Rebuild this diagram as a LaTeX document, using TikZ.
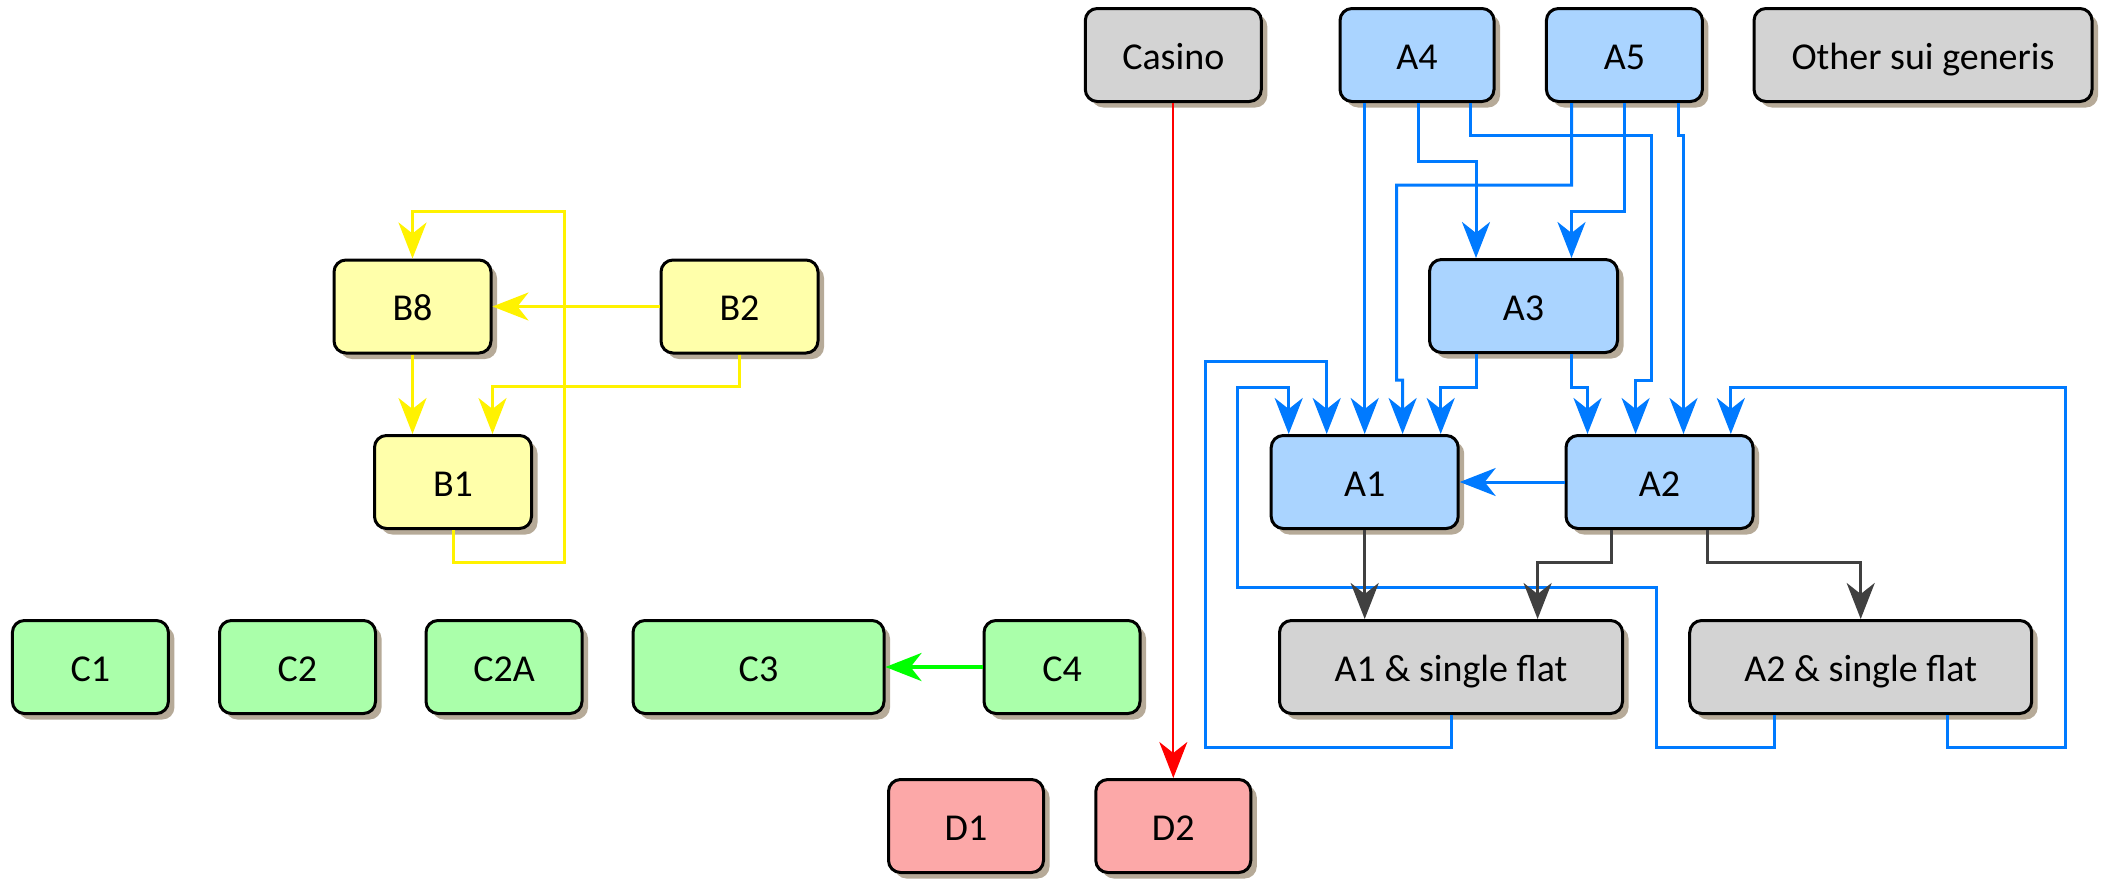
\documentclass[tikz,border=0pt]{standalone}
\usepackage{fontspec}
\setmainfont{Carlito}
\usetikzlibrary{arrows.meta,shadows}
\definecolor{fblue}{RGB}{170,212,255}
\definecolor{fgray}{RGB}{211,211,211}
\definecolor{fyellow}{RGB}{255,255,170}
\definecolor{fgreen}{RGB}{170,255,170}
\definecolor{fred}{RGB}{252,168,168}
\definecolor{shadowc}{RGB}{182,170,152}
\definecolor{lblue}{RGB}{0,122,255}
\definecolor{lgray}{RGB}{64,64,64}
\begin{document}
\begin{tikzpicture}[x=1pt,y=-1pt,
  box/.style={draw=black,line width=3pt,rounded corners=12pt,inner sep=0pt,align=center,
    font=\fontsize{38}{45}\selectfont,minimum height=93pt,text height=31pt,text depth=3pt,
    drop shadow={shadow xshift=6pt,shadow yshift=-6pt,fill=shadowc,opacity=1}},
  bluebox/.style={box,fill=fblue},
  graybox/.style={box,fill=fgray},
  yelbox/.style={box,fill=fyellow},
  grnbox/.style={box,fill=fgreen},
  redbox/.style={box,fill=fred},
  tip/.style={-{Stealth[length=36pt,width=28pt,inset=11pt]}},
  bl/.style={draw=lblue,line width=3pt,tip},
  gr/.style={draw=lgray,line width=3pt,tip},
  ye/.style={draw=yellow,line width=3pt,tip},
  rd/.style={draw=red,line width=2pt,tip},
  gn/.style={draw=green,line width=4pt,tip}
]
\useasboundingbox (0,0) rectangle (2109,879);
% top row
\node[graybox,minimum width=176pt] (Casino) at (1173.3,55) {Casino};
\node[bluebox,minimum width=154pt] (A4) at (1417,55) {A4};
\node[bluebox,minimum width=156pt] (A5) at (1624.4,55) {A5};
\node[graybox,minimum width=338pt] (Other) at (1923,55) {Other sui generis};
% A group
\node[bluebox,minimum width=188pt] (A3) at (1523.5,306) {A3};
\node[bluebox,minimum width=187pt] (A1) at (1364.7,482) {A1};
\node[bluebox,minimum width=187pt] (A2) at (1659.5,482) {A2};
\node[graybox,minimum width=343pt] (A1sf) at (1451,667) {A1 \& single flat};
\node[graybox,minimum width=342pt] (A2sf) at (1860.7,667) {A2 \& single flat};
% B group
\node[yelbox,minimum width=157pt] (B8) at (412.5,306.5) {B8};
\node[yelbox,minimum width=157pt] (B2) at (739.5,306.5) {B2};
\node[yelbox,minimum width=157pt] (B1) at (453,482) {B1};
% C group
\node[grnbox,minimum width=156pt] (C1) at (90.4,667) {C1};
\node[grnbox,minimum width=156pt] (C2) at (297.5,667) {C2};
\node[grnbox,minimum width=156pt] (C2A) at (504,667) {C2A};
\node[grnbox,minimum width=251pt] (C3) at (758.5,667) {C3};
\node[grnbox,minimum width=156pt] (C4) at (1062,667) {C4};
% D group
\node[redbox,minimum width=155pt] (D1) at (966,826) {D1};
\node[redbox,minimum width=155pt] (D2) at (1173.3,826) {D2};

% red
\draw[rd] (Casino.south) -- (D2.north);
% green
\draw[gn] (C4.west) -- (C3.east);
% yellow
\draw[ye] (B2.west) -- (B8.east);
\draw[ye] (B8.south) -- ([xshift=-40.5pt]B1.north);
\draw[ye] (B2.south) |- (492.5,386) -- ([xshift=39.5pt]B1.north);
\draw[ye] (B1.south) |- (564,562) |- (412.5,211) -- (B8.north);
% blue
\draw[bl] ([xshift=1pt]A4.south) |- (1476,161) -- ([xshift=-47.5pt]A3.north);
\draw[bl] ([xshift=0.4pt]A5.south) |- (1571.5,211) -- ([xshift=48pt]A3.north);
\draw[bl] ([xshift=-52.3pt]A4.south) -- ([xshift=0pt]A1.north);
\draw[bl] ([xshift=-52.9pt]A5.south) |- (1396.5,185) |- (1402.6,380) -- ([xshift=37.9pt]A1.north);
\draw[bl] ([xshift=53pt]A4.south) |- (1651,135) |- (1635.6,380) -- ([xshift=-23.9pt]A2.north);
\draw[bl] ([xshift=53.6pt]A5.south) |- (1683.5,135) -- ([xshift=24pt]A2.north);
\draw[bl] ([xshift=-47.5pt]A3.south) |- (1440.7,387) -- ([xshift=76pt]A1.north);
\draw[bl] ([xshift=48pt]A3.south) |- (1587.5,387) -- ([xshift=-72pt]A2.north);
\draw[bl] (A1sf.south) |- (1205,747) |- (1326.7,361) -- ([xshift=-38pt]A1.north);
\draw[bl] ([xshift=-86pt]A2sf.south) |- (1656,747) |- (1237,587) |- (1288.7,387) -- ([xshift=-76pt]A1.north);
\draw[bl] ([xshift=87pt]A2sf.south) |- (2065,747) |- (1730.8,387) -- ([xshift=71.3pt]A2.north);
\draw[bl] (A2.west) -- (A1.east);
% gray
\draw[gr] (A1.south) -- ([xshift=-86.3pt]A1sf.north);
\draw[gr] ([xshift=-48.5pt]A2.south) |- (1537.6,562) -- ([xshift=86.6pt]A1sf.north);
\draw[gr] ([xshift=47.5pt]A2.south) |- (1860.7,562) -- (A2sf.north);
\end{tikzpicture}
\end{document}
